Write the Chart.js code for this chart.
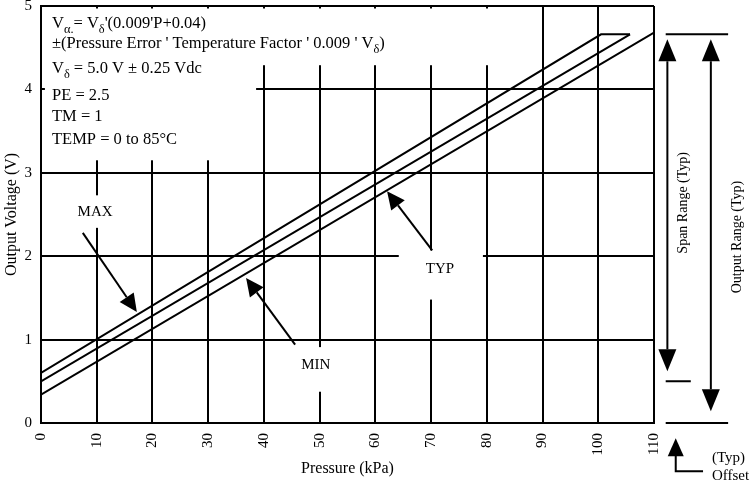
<!DOCTYPE html>
<html>
<head>
<meta charset="utf-8">
<script src="https://cdn.jsdelivr.net/npm/chart.js@4.4.0/dist/chart.umd.min.js"></script>
<style>
  html, body { margin: 0; padding: 0; background: #fff; }
</style>
</head>
<body>
<canvas id="chart" width="751" height="484"></canvas>
<script>
// tick labels
const pressureTicks = [0, 10, 20, 30, 40, 50, 60, 70, 80, 90, 100, 110];
const voltageTicks = [0, 1, 2, 3, 4, 5];

// the three transfer lines (kPa, V)
const maxPressure = [0, 100.5, 105.7];
const maxVoltage = [0.6, 4.66, 4.66];
const typPressure = [0, 105.7];
const typVoltage = [0.5, 4.66];
const minPressure = [0, 110];
const minVoltage = [0.34, 4.68];

const serif = "'Liberation Serif', 'Times New Roman', serif";

const noteLines = [
  [{ t: 'V' }, { t: 'α.', sub: true }, { t: '= V' }, { t: 'δ', sub: true }, { t: "'(0.009'P+0.04)" }],
  [{ t: "±(Pressure Error ' Temperature Factor ' 0.009 ' V" }, { t: 'δ', sub: true }, { t: ')' }],
  [{ t: 'V' }, { t: 'δ', sub: true }, { t: ' = 5.0 V ± 0.25 Vdc' }],
  [{ t: 'PE = 2.5' }],
  [{ t: 'TM = 1' }],
  [{ t: 'TEMP = 0 to 85°C' }]
];
const noteBaselines = [22, 42, 67, 94, 115, 138];

function toPoints(ps, vs) {
  return ps.map((p, i) => ({ x: p, y: vs[i] }));
}

function drawRuns(ctx, x, y, runs, size) {
  for (const r of runs) {
    const s = r.sub ? size * 0.75 : size;
    ctx.font = s + 'px ' + serif;
    ctx.fillText(r.t, x, y + (r.sub ? size * 0.32 : 0));
    x += ctx.measureText(r.t).width;
  }
}

function head(ctx, bx, by, a, len, w) {
  const tx = bx + len * Math.cos(a), ty = by + len * Math.sin(a);
  ctx.beginPath();
  ctx.moveTo(tx, ty);
  ctx.lineTo(bx + w / 2 * Math.sin(a), by - w / 2 * Math.cos(a));
  ctx.lineTo(bx - w / 2 * Math.sin(a), by + w / 2 * Math.cos(a));
  ctx.closePath();
  ctx.fill();
}

function arrow(ctx, x1, y1, x2, y2, len, w, both) {
  const a = Math.atan2(y2 - y1, x2 - x1);
  const bx = x2 - len * Math.cos(a), by = y2 - len * Math.sin(a);
  let sx = x1, sy = y1;
  if (both) {
    sx = x1 + len * Math.cos(a);
    sy = y1 + len * Math.sin(a);
    head(ctx, sx, sy, a + Math.PI, len, w);
  }
  ctx.beginPath();
  ctx.moveTo(sx, sy);
  ctx.lineTo(bx, by);
  ctx.stroke();
  head(ctx, bx, by, a, len, w);
}

const annotate = {
  id: 'annotate',
  beforeDatasetsDraw(chart) {
    // blank out grid behind the notes and labels
    const { ctx, scales: { x, y } } = chart;
    const boxes = [
      [0.7, 4.97, 38.6, 3.15],
      [38.6, 4.97, 86, 4.29],
      [5.6, 2.73, 13.8, 2.34],
      [64.2, 2.07, 79.3, 1.48],
      [45.6, 0.91, 53.7, 0.375]
    ];
    ctx.save();
    ctx.fillStyle = '#fff';
    boxes.forEach(([p1, v1, p2, v2]) => {
      const l = x.getPixelForValue(p1), r = x.getPixelForValue(p2);
      const t = y.getPixelForValue(v1), b = y.getPixelForValue(v2);
      ctx.fillRect(l, t, r - l, b - t);
    });
    ctx.restore();
  },
  afterDatasetsDraw(chart) {
    const { ctx, scales: { x, y }, chartArea: a } = chart;
    const px = v => x.getPixelForValue(v);
    const py = v => y.getPixelForValue(v);
    ctx.save();
    ctx.fillStyle = '#000';
    ctx.strokeStyle = '#000';
    ctx.lineWidth = 2;
    ctx.textBaseline = 'alphabetic';
    ctx.textAlign = 'left';

    noteLines.forEach((runs, i) => drawRuns(ctx, a.left + 11, a.top + noteBaselines[i], runs, 16.5));

    // curve labels
    ctx.font = '15px ' + serif;
    ctx.textAlign = 'center';
    ctx.textBaseline = 'middle';
    ctx.fillText('MAX', px(9.7), py(2.53));
    ctx.fillText('MIN', px(49.3), py(0.69));
    ctx.fillText('TYP', px(71.6), py(1.84));
    arrow(ctx, px(7.5), py(2.28), px(17.2), py(1.33), 18, 17);
    arrow(ctx, px(45.6), py(0.94), px(36.8), py(1.74), 18, 17);
    arrow(ctx, px(70.2), py(2.07), px(62.1), py(2.78), 18, 17);

    // range marks at the right
    const top = typVoltage[typVoltage.length - 1];
    ctx.beginPath();
    ctx.moveTo(px(112.1), py(top)); ctx.lineTo(px(123.3), py(top));
    ctx.moveTo(px(112.1), py(typVoltage[0])); ctx.lineTo(px(116.6), py(typVoltage[0]));
    ctx.moveTo(px(112.1), py(0)); ctx.lineTo(px(123.3), py(0));
    ctx.stroke();
    arrow(ctx, px(112.4), py(4.6), px(112.4), py(0.62), 22, 18, true);
    arrow(ctx, px(120.2), py(4.6), px(120.2), py(0.14), 22, 18, true);

    ctx.font = '14px ' + serif;
    ctx.save();
    ctx.translate(px(115.2), py(2.64));
    ctx.rotate(-Math.PI / 2);
    ctx.fillText('Span Range (Typ)', 0, 0);
    ctx.restore();
    ctx.save();
    ctx.translate(px(124.9), py(2.23));
    ctx.rotate(-Math.PI / 2);
    ctx.fillText('Output Range (Typ)', 0, 0);
    ctx.restore();

    // offset mark under the axis
    ctx.beginPath();
    ctx.moveTo(px(113.9), py(-0.35));
    ctx.lineTo(px(113.9), py(-0.58));
    ctx.lineTo(px(118.8), py(-0.58));
    ctx.stroke();
    head(ctx, px(113.9), py(-0.4), -Math.PI / 2, 18, 16);
    ctx.font = '15px ' + serif;
    ctx.textAlign = 'left';
    ctx.fillText('(Typ)', px(120.4), py(-0.42));
    ctx.fillText('Offset', px(120.4), py(-0.64));
    ctx.restore();
  }
};

const lineStyle = {
  borderColor: '#000',
  borderWidth: 2,
  pointRadius: 0,
  showLine: true,
  fill: false,
  tension: 0
};

new Chart(document.getElementById('chart'), {
  type: 'scatter',
  data: {
    datasets: [
      { label: 'MAX', data: toPoints(maxPressure, maxVoltage), ...lineStyle },
      { label: 'TYP', data: toPoints(typPressure, typVoltage), ...lineStyle },
      { label: 'MIN', data: toPoints(minPressure, minVoltage), ...lineStyle }
    ]
  },
  options: {
    responsive: false,
    animation: false,
    devicePixelRatio: 1,
    layout: { padding: { top: 6, right: 97, left: 0, bottom: 0 } },
    plugins: { legend: { display: false }, tooltip: { enabled: false } },
    scales: {
      x: {
        type: 'linear',
        min: 0,
        max: 110,
        afterBuildTicks: s => { s.ticks = pressureTicks.map(v => ({ value: v })); },
        afterFit: s => { s.height = 61; s.paddingLeft = 0; s.paddingRight = 0; },
        ticks: { color: '#000', font: { family: serif, size: 15 }, minRotation: 90, maxRotation: 90, padding: 10, autoSkip: false },
        grid: { color: '#000', lineWidth: 2, drawTicks: false },
        border: { color: '#000', width: 2 },
        title: { display: true, text: 'Pressure (kPa)', color: '#000', font: { family: serif, size: 16 }, padding: { top: 4, bottom: 6 } }
      },
      y: {
        type: 'linear',
        min: 0,
        max: 5,
        afterBuildTicks: s => { s.ticks = voltageTicks.map(v => ({ value: v })); },
        afterFit: s => { s.width = 41; s.paddingTop = 0; s.paddingBottom = 0; },
        ticks: { color: '#000', font: { family: serif, size: 15 }, padding: 9 },
        grid: { color: '#000', lineWidth: 2, drawTicks: false },
        border: { color: '#000', width: 2 },
        title: { display: true, text: 'Output Voltage (V)', color: '#000', font: { family: serif, size: 16 }, padding: { top: 2, bottom: 2 } }
      }
    }
  },
  plugins: [annotate]
});
</script>
</body>
</html>
